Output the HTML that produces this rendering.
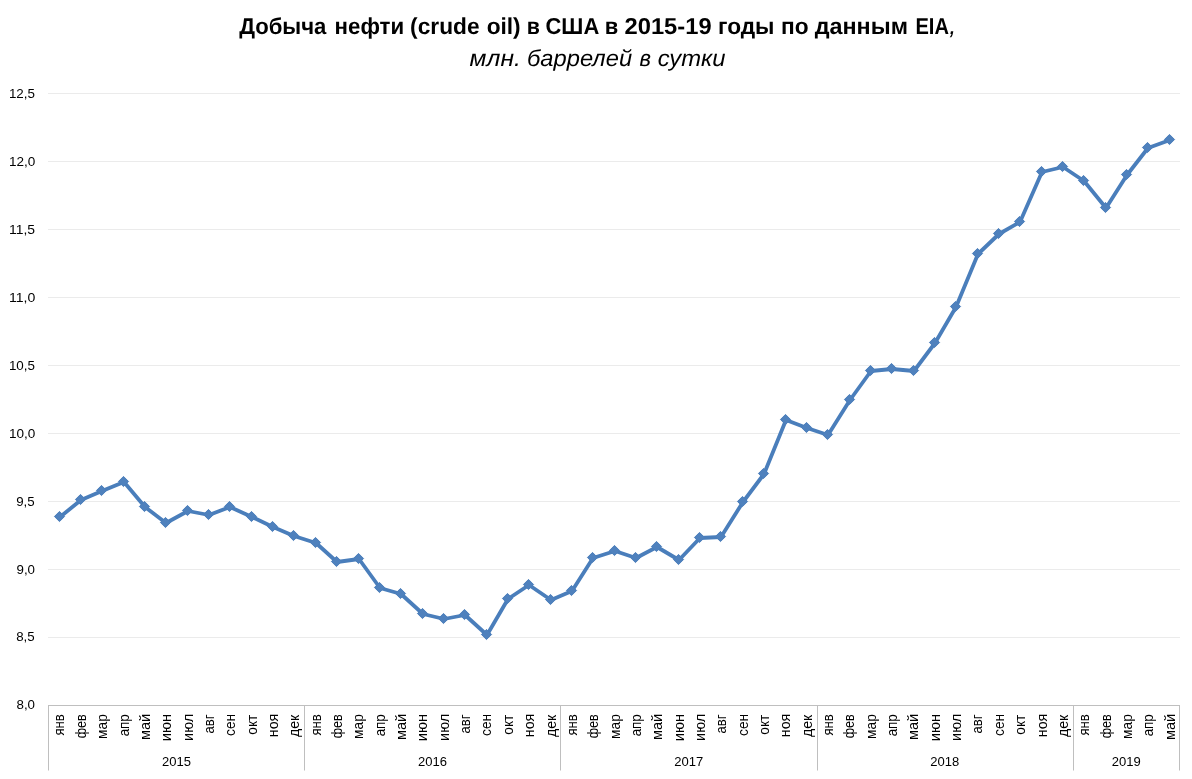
<!DOCTYPE html>
<html lang="ru"><head><meta charset="utf-8">
<title>Добыча нефти (crude oil) в США в 2015-19 годы по данным EIA</title>
<style>
html,body{margin:0;padding:0;background:#fff;}
body{width:1192px;height:779px;overflow:hidden;}
svg{display:block;font-family:"Liberation Sans",sans-serif;}
.t1{font-size:23px;text-rendering:geometricPrecision;font-weight:bold;fill:#000;}
.t2{font-size:23px;text-rendering:geometricPrecision;font-style:italic;font-weight:normal;fill:#000;}
.ax{font-size:13.3px;fill:#000;}
.mo{font-size:14.2px;fill:#000;}
</style></head><body>
<svg width="1192" height="779" viewBox="0 0 1192 779">
<rect x="0" y="0" width="1192" height="779" fill="#ffffff"/>
<text class="t1" y="34"><tspan x="239.15" textLength="87.25" lengthAdjust="spacingAndGlyphs">Добыча</tspan> <tspan x="334.60" textLength="69.58" lengthAdjust="spacingAndGlyphs">нефти</tspan> <tspan x="410.12" textLength="69.41" lengthAdjust="spacingAndGlyphs">(crude</tspan> <tspan x="486.66" textLength="34.02" lengthAdjust="spacingAndGlyphs">oil)</tspan> <tspan x="526.86" textLength="13.12" lengthAdjust="spacingAndGlyphs">в</tspan> <tspan x="545.55" textLength="53.68" lengthAdjust="spacingAndGlyphs">США</tspan> <tspan x="604.72" textLength="13.49" lengthAdjust="spacingAndGlyphs">в</tspan> <tspan x="624.53" textLength="87.10" lengthAdjust="spacingAndGlyphs">2015-19</tspan> <tspan x="717.98" textLength="56.54" lengthAdjust="spacingAndGlyphs">годы</tspan> <tspan x="780.97" textLength="27.57" lengthAdjust="spacingAndGlyphs">по</tspan> <tspan x="814.69" textLength="93.29" lengthAdjust="spacingAndGlyphs">данным</tspan> <tspan x="915.41" textLength="33.47" lengthAdjust="spacingAndGlyphs">EIA</tspan><tspan class="t2" x="949.2" style="font-size:25px">,</tspan></text>
<text class="t2" y="65.7"><tspan x="469.64" textLength="51.23" lengthAdjust="spacingAndGlyphs">млн.</tspan> <tspan x="526.99" textLength="105.13" lengthAdjust="spacingAndGlyphs">баррелей</tspan> <tspan x="639.53" textLength="11.47" lengthAdjust="spacingAndGlyphs">в</tspan> <tspan x="657.67" textLength="67.95" lengthAdjust="spacingAndGlyphs">сутки</tspan></text>
<g stroke="#ebebeb" stroke-width="1" shape-rendering="crispEdges">
<line x1="48.0" y1="637.5" x2="1180.0" y2="637.5"/>
<line x1="48.0" y1="569.5" x2="1180.0" y2="569.5"/>
<line x1="48.0" y1="501.5" x2="1180.0" y2="501.5"/>
<line x1="48.0" y1="433.5" x2="1180.0" y2="433.5"/>
<line x1="48.0" y1="365.5" x2="1180.0" y2="365.5"/>
<line x1="48.0" y1="297.5" x2="1180.0" y2="297.5"/>
<line x1="48.0" y1="229.5" x2="1180.0" y2="229.5"/>
<line x1="48.0" y1="161.5" x2="1180.0" y2="161.5"/>
<line x1="48.0" y1="93.5" x2="1180.0" y2="93.5"/>
</g>
<g stroke="#bfbfbf" stroke-width="1" shape-rendering="crispEdges">
<line x1="48.0" y1="705.5" x2="1180.0" y2="705.5"/>
<line x1="48.5" y1="705.5" x2="48.5" y2="770.0"/>
<line x1="304.5" y1="705.5" x2="304.5" y2="770.0"/>
<line x1="560.5" y1="705.5" x2="560.5" y2="770.0"/>
<line x1="817.5" y1="705.5" x2="817.5" y2="770.0"/>
<line x1="1073.5" y1="705.5" x2="1073.5" y2="770.0"/>
<line x1="1179.5" y1="705.5" x2="1179.5" y2="770.0"/>
</g>
<rect x="48.0" y="770" width="1" height="1" fill="#dedede" shape-rendering="crispEdges"/>
<rect x="304.0" y="770" width="1" height="1" fill="#dedede" shape-rendering="crispEdges"/>
<rect x="560.0" y="770" width="1" height="1" fill="#dedede" shape-rendering="crispEdges"/>
<rect x="817.0" y="770" width="1" height="1" fill="#dedede" shape-rendering="crispEdges"/>
<rect x="1073.0" y="770" width="1" height="1" fill="#dedede" shape-rendering="crispEdges"/>
<rect x="1179.0" y="770" width="1" height="1" fill="#dedede" shape-rendering="crispEdges"/>
<g class="ax" text-anchor="end">
<text x="35.0" y="709">8,0</text>
<text x="34.7" y="641">8,5</text>
<text x="35.0" y="574">9,0</text>
<text x="34.7" y="506">9,5</text>
<text text-anchor="start" x="8.92" y="438" textLength="26.36" lengthAdjust="spacingAndGlyphs">10,0</text>
<text text-anchor="start" x="8.93" y="370" textLength="26.08" lengthAdjust="spacingAndGlyphs">10,5</text>
<text text-anchor="start" x="8.92" y="302" textLength="26.36" lengthAdjust="spacingAndGlyphs">11,0</text>
<text text-anchor="start" x="8.93" y="234" textLength="26.08" lengthAdjust="spacingAndGlyphs">11,5</text>
<text text-anchor="start" x="8.92" y="166" textLength="26.36" lengthAdjust="spacingAndGlyphs">12,0</text>
<text text-anchor="start" x="8.93" y="98" textLength="26.08" lengthAdjust="spacingAndGlyphs">12,5</text>
</g>
<g class="mo">
<text transform="translate(64.47,735.61) rotate(-90)" textLength="21.39" lengthAdjust="spacingAndGlyphs">янв</text>
<text transform="translate(85.82,738.23) rotate(-90)" textLength="23.98" lengthAdjust="spacingAndGlyphs">фев</text>
<text transform="translate(107.17,738.95) rotate(-90)" textLength="24.73" lengthAdjust="spacingAndGlyphs">мар</text>
<text transform="translate(128.52,736.36) rotate(-90)" textLength="22.12" lengthAdjust="spacingAndGlyphs">апр</text>
<text transform="translate(149.87,740.11) rotate(-90)" textLength="26.32" lengthAdjust="spacingAndGlyphs">май</text>
<text transform="translate(171.22,741.22) rotate(-90)" textLength="27.44" lengthAdjust="spacingAndGlyphs">июн</text>
<text transform="translate(192.57,740.89) rotate(-90)" textLength="27.08" lengthAdjust="spacingAndGlyphs">июл</text>
<text transform="translate(213.92,733.45) rotate(-90)" textLength="19.04" lengthAdjust="spacingAndGlyphs">авг</text>
<text transform="translate(235.27,735.88) rotate(-90)" textLength="22.03" lengthAdjust="spacingAndGlyphs">сен</text>
<text transform="translate(256.62,734.79) rotate(-90)" textLength="20.23" lengthAdjust="spacingAndGlyphs">окт</text>
<text transform="translate(277.97,737.18) rotate(-90)" textLength="23.36" lengthAdjust="spacingAndGlyphs">ноя</text>
<text transform="translate(299.31,737.04) rotate(-90)" textLength="22.17" lengthAdjust="spacingAndGlyphs">дек</text>
<text transform="translate(320.66,735.61) rotate(-90)" textLength="21.39" lengthAdjust="spacingAndGlyphs">янв</text>
<text transform="translate(342.01,738.23) rotate(-90)" textLength="23.98" lengthAdjust="spacingAndGlyphs">фев</text>
<text transform="translate(363.36,738.95) rotate(-90)" textLength="24.73" lengthAdjust="spacingAndGlyphs">мар</text>
<text transform="translate(384.71,736.36) rotate(-90)" textLength="22.12" lengthAdjust="spacingAndGlyphs">апр</text>
<text transform="translate(406.06,740.11) rotate(-90)" textLength="26.32" lengthAdjust="spacingAndGlyphs">май</text>
<text transform="translate(427.41,741.22) rotate(-90)" textLength="27.44" lengthAdjust="spacingAndGlyphs">июн</text>
<text transform="translate(448.76,740.89) rotate(-90)" textLength="27.08" lengthAdjust="spacingAndGlyphs">июл</text>
<text transform="translate(470.11,733.45) rotate(-90)" textLength="19.04" lengthAdjust="spacingAndGlyphs">авг</text>
<text transform="translate(491.46,735.88) rotate(-90)" textLength="22.03" lengthAdjust="spacingAndGlyphs">сен</text>
<text transform="translate(512.80,734.79) rotate(-90)" textLength="20.23" lengthAdjust="spacingAndGlyphs">окт</text>
<text transform="translate(534.15,737.18) rotate(-90)" textLength="23.36" lengthAdjust="spacingAndGlyphs">ноя</text>
<text transform="translate(555.50,737.04) rotate(-90)" textLength="22.17" lengthAdjust="spacingAndGlyphs">дек</text>
<text transform="translate(576.85,735.61) rotate(-90)" textLength="21.39" lengthAdjust="spacingAndGlyphs">янв</text>
<text transform="translate(598.20,738.23) rotate(-90)" textLength="23.98" lengthAdjust="spacingAndGlyphs">фев</text>
<text transform="translate(619.55,738.95) rotate(-90)" textLength="24.73" lengthAdjust="spacingAndGlyphs">мар</text>
<text transform="translate(640.90,736.36) rotate(-90)" textLength="22.12" lengthAdjust="spacingAndGlyphs">апр</text>
<text transform="translate(662.25,740.11) rotate(-90)" textLength="26.32" lengthAdjust="spacingAndGlyphs">май</text>
<text transform="translate(683.60,741.22) rotate(-90)" textLength="27.44" lengthAdjust="spacingAndGlyphs">июн</text>
<text transform="translate(704.95,740.89) rotate(-90)" textLength="27.08" lengthAdjust="spacingAndGlyphs">июл</text>
<text transform="translate(726.30,733.45) rotate(-90)" textLength="19.04" lengthAdjust="spacingAndGlyphs">авг</text>
<text transform="translate(747.64,735.88) rotate(-90)" textLength="22.03" lengthAdjust="spacingAndGlyphs">сен</text>
<text transform="translate(768.99,734.79) rotate(-90)" textLength="20.23" lengthAdjust="spacingAndGlyphs">окт</text>
<text transform="translate(790.34,737.18) rotate(-90)" textLength="23.36" lengthAdjust="spacingAndGlyphs">ноя</text>
<text transform="translate(811.69,737.04) rotate(-90)" textLength="22.17" lengthAdjust="spacingAndGlyphs">дек</text>
<text transform="translate(833.04,735.61) rotate(-90)" textLength="21.39" lengthAdjust="spacingAndGlyphs">янв</text>
<text transform="translate(854.39,738.23) rotate(-90)" textLength="23.98" lengthAdjust="spacingAndGlyphs">фев</text>
<text transform="translate(875.74,738.95) rotate(-90)" textLength="24.73" lengthAdjust="spacingAndGlyphs">мар</text>
<text transform="translate(897.09,736.36) rotate(-90)" textLength="22.12" lengthAdjust="spacingAndGlyphs">апр</text>
<text transform="translate(918.44,740.11) rotate(-90)" textLength="26.32" lengthAdjust="spacingAndGlyphs">май</text>
<text transform="translate(939.79,741.22) rotate(-90)" textLength="27.44" lengthAdjust="spacingAndGlyphs">июн</text>
<text transform="translate(961.13,740.89) rotate(-90)" textLength="27.08" lengthAdjust="spacingAndGlyphs">июл</text>
<text transform="translate(982.48,733.45) rotate(-90)" textLength="19.04" lengthAdjust="spacingAndGlyphs">авг</text>
<text transform="translate(1003.83,735.88) rotate(-90)" textLength="22.03" lengthAdjust="spacingAndGlyphs">сен</text>
<text transform="translate(1025.18,734.79) rotate(-90)" textLength="20.23" lengthAdjust="spacingAndGlyphs">окт</text>
<text transform="translate(1046.53,737.18) rotate(-90)" textLength="23.36" lengthAdjust="spacingAndGlyphs">ноя</text>
<text transform="translate(1067.88,737.04) rotate(-90)" textLength="22.17" lengthAdjust="spacingAndGlyphs">дек</text>
<text transform="translate(1089.23,735.61) rotate(-90)" textLength="21.39" lengthAdjust="spacingAndGlyphs">янв</text>
<text transform="translate(1110.58,738.23) rotate(-90)" textLength="23.98" lengthAdjust="spacingAndGlyphs">фев</text>
<text transform="translate(1131.93,738.95) rotate(-90)" textLength="24.73" lengthAdjust="spacingAndGlyphs">мар</text>
<text transform="translate(1153.28,736.36) rotate(-90)" textLength="22.12" lengthAdjust="spacingAndGlyphs">апр</text>
<text transform="translate(1174.63,740.11) rotate(-90)" textLength="26.32" lengthAdjust="spacingAndGlyphs">май</text>
</g>
<g class="ax" text-anchor="middle">
<text x="176.5" y="766" textLength="29.0" lengthAdjust="spacingAndGlyphs">2015</text>
<text x="432.6" y="766" textLength="29.0" lengthAdjust="spacingAndGlyphs">2016</text>
<text x="688.7" y="766" textLength="29.0" lengthAdjust="spacingAndGlyphs">2017</text>
<text x="944.8" y="766" textLength="29.0" lengthAdjust="spacingAndGlyphs">2018</text>
<text x="1126.2" y="766" textLength="29.0" lengthAdjust="spacingAndGlyphs">2019</text>
</g>
<polyline points="60.0,517.0 81.0,500.0 102.0,491.0 124.0,482.0 145.0,507.0 166.0,523.0 188.0,511.0 209.0,515.0 230.0,507.0 252.0,517.0 273.0,527.0 294.0,536.0 316.0,543.0 337.0,562.0 359.0,559.0 380.0,588.0 401.0,594.0 423.0,614.0 444.0,619.0 465.0,615.0 487.0,635.0 508.0,599.0 529.0,585.0 551.0,600.0 572.0,591.0 593.0,558.0 615.0,551.0 636.0,558.0 657.0,547.0 679.0,560.0 700.0,538.0 721.0,537.0 743.0,502.0 764.0,474.0 786.0,420.0 807.0,428.0 828.0,435.0 850.0,400.0 871.0,371.0 892.0,369.0 914.0,371.0 935.0,343.0 956.0,307.0 978.0,254.0 999.0,234.0 1020.0,222.0 1042.0,172.0 1063.0,167.0 1084.0,181.0 1106.0,208.0 1127.0,175.0 1148.0,148.0 1170.0,140.0" fill="none" stroke="#4a7ebb" stroke-width="3.8" stroke-linejoin="round" stroke-linecap="round"/>
<g fill="#4f81bd" stroke="#4a7ebb" stroke-width="1" stroke-linejoin="miter">
<path d="M59.50 511.40L64.60 516.50L59.50 521.60L54.40 516.50Z"/>
<path d="M80.50 494.40L85.60 499.50L80.50 504.60L75.40 499.50Z"/>
<path d="M101.50 485.40L106.60 490.50L101.50 495.60L96.40 490.50Z"/>
<path d="M123.50 476.40L128.60 481.50L123.50 486.60L118.40 481.50Z"/>
<path d="M144.50 501.40L149.60 506.50L144.50 511.60L139.40 506.50Z"/>
<path d="M165.50 517.40L170.60 522.50L165.50 527.60L160.40 522.50Z"/>
<path d="M187.50 505.40L192.60 510.50L187.50 515.60L182.40 510.50Z"/>
<path d="M208.50 509.40L213.60 514.50L208.50 519.60L203.40 514.50Z"/>
<path d="M229.50 501.40L234.60 506.50L229.50 511.60L224.40 506.50Z"/>
<path d="M251.50 511.40L256.60 516.50L251.50 521.60L246.40 516.50Z"/>
<path d="M272.50 521.40L277.60 526.50L272.50 531.60L267.40 526.50Z"/>
<path d="M293.50 530.40L298.60 535.50L293.50 540.60L288.40 535.50Z"/>
<path d="M315.50 537.40L320.60 542.50L315.50 547.60L310.40 542.50Z"/>
<path d="M336.50 556.40L341.60 561.50L336.50 566.60L331.40 561.50Z"/>
<path d="M358.50 553.40L363.60 558.50L358.50 563.60L353.40 558.50Z"/>
<path d="M379.50 582.40L384.60 587.50L379.50 592.60L374.40 587.50Z"/>
<path d="M400.50 588.40L405.60 593.50L400.50 598.60L395.40 593.50Z"/>
<path d="M422.50 608.40L427.60 613.50L422.50 618.60L417.40 613.50Z"/>
<path d="M443.50 613.40L448.60 618.50L443.50 623.60L438.40 618.50Z"/>
<path d="M464.50 609.40L469.60 614.50L464.50 619.60L459.40 614.50Z"/>
<path d="M486.50 629.40L491.60 634.50L486.50 639.60L481.40 634.50Z"/>
<path d="M507.50 593.40L512.60 598.50L507.50 603.60L502.40 598.50Z"/>
<path d="M528.50 579.40L533.60 584.50L528.50 589.60L523.40 584.50Z"/>
<path d="M550.50 594.40L555.60 599.50L550.50 604.60L545.40 599.50Z"/>
<path d="M571.50 585.40L576.60 590.50L571.50 595.60L566.40 590.50Z"/>
<path d="M592.50 552.40L597.60 557.50L592.50 562.60L587.40 557.50Z"/>
<path d="M614.50 545.40L619.60 550.50L614.50 555.60L609.40 550.50Z"/>
<path d="M635.50 552.40L640.60 557.50L635.50 562.60L630.40 557.50Z"/>
<path d="M656.50 541.40L661.60 546.50L656.50 551.60L651.40 546.50Z"/>
<path d="M678.50 554.40L683.60 559.50L678.50 564.60L673.40 559.50Z"/>
<path d="M699.50 532.40L704.60 537.50L699.50 542.60L694.40 537.50Z"/>
<path d="M720.50 531.40L725.60 536.50L720.50 541.60L715.40 536.50Z"/>
<path d="M742.50 496.40L747.60 501.50L742.50 506.60L737.40 501.50Z"/>
<path d="M763.50 468.40L768.60 473.50L763.50 478.60L758.40 473.50Z"/>
<path d="M785.50 414.40L790.60 419.50L785.50 424.60L780.40 419.50Z"/>
<path d="M806.50 422.40L811.60 427.50L806.50 432.60L801.40 427.50Z"/>
<path d="M827.50 429.40L832.60 434.50L827.50 439.60L822.40 434.50Z"/>
<path d="M849.50 394.40L854.60 399.50L849.50 404.60L844.40 399.50Z"/>
<path d="M870.50 365.40L875.60 370.50L870.50 375.60L865.40 370.50Z"/>
<path d="M891.50 363.40L896.60 368.50L891.50 373.60L886.40 368.50Z"/>
<path d="M913.50 365.40L918.60 370.50L913.50 375.60L908.40 370.50Z"/>
<path d="M934.50 337.40L939.60 342.50L934.50 347.60L929.40 342.50Z"/>
<path d="M955.50 301.40L960.60 306.50L955.50 311.60L950.40 306.50Z"/>
<path d="M977.50 248.40L982.60 253.50L977.50 258.60L972.40 253.50Z"/>
<path d="M998.50 228.40L1003.60 233.50L998.50 238.60L993.40 233.50Z"/>
<path d="M1019.50 216.40L1024.60 221.50L1019.50 226.60L1014.40 221.50Z"/>
<path d="M1041.50 166.40L1046.60 171.50L1041.50 176.60L1036.40 171.50Z"/>
<path d="M1062.50 161.40L1067.60 166.50L1062.50 171.60L1057.40 166.50Z"/>
<path d="M1083.50 175.40L1088.60 180.50L1083.50 185.60L1078.40 180.50Z"/>
<path d="M1105.50 202.40L1110.60 207.50L1105.50 212.60L1100.40 207.50Z"/>
<path d="M1126.50 169.40L1131.60 174.50L1126.50 179.60L1121.40 174.50Z"/>
<path d="M1147.50 142.40L1152.60 147.50L1147.50 152.60L1142.40 147.50Z"/>
<path d="M1169.50 134.40L1174.60 139.50L1169.50 144.60L1164.40 139.50Z"/>
</g>
</svg>
</body></html>
